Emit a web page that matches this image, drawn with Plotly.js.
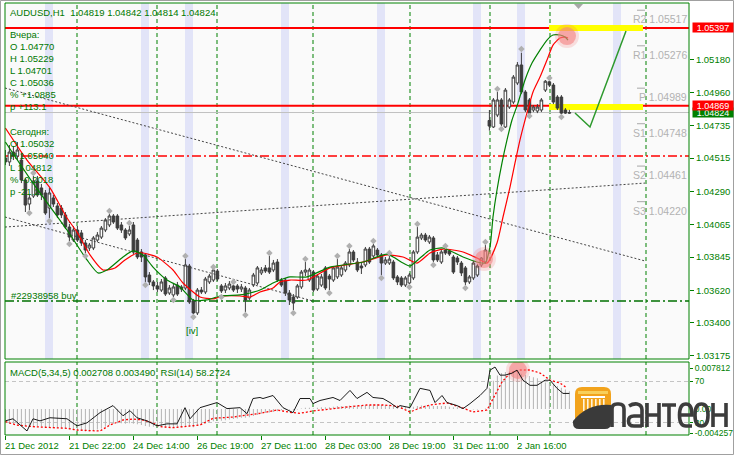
<!DOCTYPE html>
<html><head><meta charset="utf-8">
<script src="https://cdn.plot.ly/plotly-3.0.1.min.js"></script>
<style>html,body{margin:0;padding:0;background:#fff;} #chart{width:734px;height:455px;}</style>
</head><body><div id="chart"></div>
<script>
// ---------------- DATA ----------------
const symbolTitle = 'AUDUSD,H1  1.04819 1.04842 1.04814 1.04824';
const dateTickBars = [0,16,32,48,64,80,96,112,128];
const dateTickLabels = ['21 Dec 2012','21 Dec 22:00','24 Dec 14:00','26 Dec 19:00','27 Dec 11:00','28 Dec 03:00','28 Dec 19:00','31 Dec 11:00','2 Jan 16:00'];
const priceTicks = [1.05180,1.04960,1.04735,1.04515,1.04290,1.04065,1.03845,1.03620,1.03400,1.03175];

const barOpen = [1.04516,1.04489,1.04556,1.04529,1.04502,1.04367,1.04204,1.04258,1.04360,1.04313,
1.04279,1.04177,1.04245,1.04191,1.04177,1.04130,1.04048,1.03960,1.04028,1.04008,
1.03940,1.03906,1.03906,1.03960,1.03980,1.04028,1.04062,1.04123,1.04123,1.04062,
1.04028,1.04001,1.04062,1.03960,1.03879,1.03859,1.03723,1.03676,1.03649,1.03621,
1.03703,1.03601,1.03588,1.03655,1.03642,1.03635,1.03784,1.03547,1.03466,1.03621,
1.03608,1.03676,1.03689,1.03750,1.03649,1.03621,1.03635,1.03649,1.03649,1.03628,
1.03635,1.03567,1.03655,1.03669,1.03737,1.03771,1.03771,1.03757,1.03811,1.03689,
1.03689,1.03601,1.03574,1.03574,1.03642,1.03743,1.03689,1.03743,1.03628,1.03655,
1.03771,1.03716,1.03689,1.03710,1.03723,1.03757,1.03791,1.03879,1.03811,1.03784,
1.03791,1.03899,1.03852,1.03892,1.03859,1.03804,1.03804,1.03811,1.03710,1.03703,
1.03655,1.03669,1.03703,1.03879,1.03974,1.03994,1.03947,1.03974,1.03859,1.03811,
1.03892,1.03886,1.03845,1.03838,1.03804,1.03771,1.03676,1.03703,1.03723,1.03791,
1.03811,1.04770,1.04726,1.04807,1.04909,1.04726,1.04861,1.04895,1.05024,1.05146,
1.04963,1.04909,1.04841,1.04834,1.04841,1.04976,1.05032,1.05010,1.04929,1.04929,
1.04841,1.04819];
const barHigh = [1.04570,1.04604,1.04597,1.04624,1.04556,1.04380,1.04265,1.04394,1.04394,1.04340,
1.04299,1.04313,1.04265,1.04211,1.04197,1.04150,1.04069,1.04055,1.04055,1.04028,
1.03960,1.03940,1.03987,1.04014,1.04055,1.04109,1.04136,1.04136,1.04136,1.04082,
1.04041,1.04055,1.04082,1.03974,1.03899,1.03872,1.03743,1.03689,1.03676,1.03696,
1.03716,1.03655,1.03662,1.03676,1.03655,1.03831,1.03798,1.03561,1.03635,1.03642,
1.03710,1.03730,1.03764,1.03764,1.03662,1.03669,1.03682,1.03655,1.03662,1.03662,
1.03649,1.03635,1.03737,1.03784,1.03777,1.03791,1.03852,1.03825,1.03831,1.03703,
1.03703,1.03621,1.03594,1.03662,1.03757,1.03811,1.03771,1.03757,1.03730,1.03730,
1.03784,1.03730,1.03784,1.03831,1.03784,1.03818,1.03899,1.03892,1.03838,1.03811,
1.03913,1.03913,1.03933,1.03906,1.03872,1.03845,1.03852,1.03825,1.03723,1.03716,
1.03716,1.03737,1.03892,1.04048,1.04008,1.04008,1.03994,1.03987,1.03879,1.03892,
1.03899,1.03892,1.03859,1.03852,1.03818,1.03784,1.03723,1.03818,1.03798,1.03845,
1.03926,1.04841,1.04922,1.04963,1.04922,1.04990,1.04922,1.05078,1.05166,1.05229,
1.04976,1.04922,1.04875,1.04881,1.04922,1.05044,1.05040,1.05024,1.04942,1.04942,
1.04854,1.04842];
const barLow = [1.04468,1.04462,1.04502,1.04502,1.04346,1.04150,1.04163,1.04245,1.04252,1.04231,
1.04130,1.04109,1.04184,1.04109,1.04109,1.04035,1.03953,1.03947,1.03947,1.03920,
1.03872,1.03886,1.03892,1.03947,1.03967,1.04014,1.04048,1.04069,1.04028,1.04008,
1.03960,1.03987,1.03865,1.03831,1.03811,1.03676,1.03655,1.03621,1.03608,1.03608,
1.03581,1.03588,1.03574,1.03581,1.03608,1.03621,1.03527,1.03459,1.03452,1.03594,
1.03594,1.03662,1.03676,1.03682,1.03601,1.03601,1.03621,1.03608,1.03601,1.03608,
1.03473,1.03554,1.03642,1.03655,1.03723,1.03737,1.03730,1.03743,1.03676,1.03642,
1.03581,1.03520,1.03486,1.03561,1.03628,1.03716,1.03676,1.03608,1.03615,1.03642,
1.03621,1.03621,1.03676,1.03696,1.03710,1.03743,1.03777,1.03811,1.03743,1.03730,
1.03777,1.03798,1.03838,1.03845,1.03723,1.03791,1.03791,1.03689,1.03655,1.03642,
1.03642,1.03662,1.03689,1.03865,1.03960,1.03947,1.03933,1.03811,1.03811,1.03798,
1.03859,1.03852,1.03730,1.03791,1.03716,1.03655,1.03662,1.03689,1.03710,1.03777,
1.03798,1.04701,1.04719,1.04793,1.04732,1.04719,1.04848,1.04881,1.05010,1.04949,
1.04827,1.04820,1.04827,1.04820,1.04827,1.04963,1.04997,1.04881,1.04841,1.04812,
1.04814,1.04814];
const barClose = [1.04489,1.04556,1.04529,1.04570,1.04367,1.04197,1.04245,1.04360,1.04265,1.04265,
1.04143,1.04279,1.04204,1.04130,1.04130,1.04048,1.03980,1.04028,1.03960,1.03940,
1.03892,1.03926,1.03974,1.03994,1.04041,1.04096,1.04123,1.04082,1.04041,1.04028,
1.03974,1.04028,1.03879,1.03845,1.03845,1.03710,1.03676,1.03649,1.03628,1.03676,
1.03594,1.03635,1.03642,1.03594,1.03628,1.03791,1.03540,1.03466,1.03621,1.03608,
1.03696,1.03716,1.03757,1.03696,1.03615,1.03649,1.03662,1.03621,1.03628,1.03642,
1.03554,1.03621,1.03723,1.03771,1.03757,1.03750,1.03743,1.03804,1.03689,1.03655,
1.03601,1.03554,1.03533,1.03649,1.03743,1.03757,1.03757,1.03621,1.03716,1.03710,
1.03635,1.03696,1.03771,1.03777,1.03771,1.03804,1.03879,1.03825,1.03757,1.03771,
1.03899,1.03811,1.03920,1.03859,1.03804,1.03825,1.03831,1.03703,1.03676,1.03655,
1.03703,1.03723,1.03879,1.03980,1.03994,1.03960,1.03980,1.03825,1.03825,1.03879,
1.03872,1.03865,1.03743,1.03811,1.03737,1.03676,1.03710,1.03804,1.03784,1.03838,
1.03892,1.04732,1.04909,1.04909,1.04746,1.04976,1.04909,1.05064,1.05146,1.04963,
1.04841,1.04820,1.04861,1.04861,1.04909,1.05036,1.05010,1.04895,1.04854,1.04820,
1.04820,1.04824];

const fracUpBar = [7,26,31,45,52,57,66,75,83,86,92,96,103,110,120,123,129,136];
const fracUpPrice = [1.04414,1.04157,1.04075,1.03852,1.03777,1.03676,1.03872,1.03831,1.03852,1.03920,1.03953,1.03872,1.04069,1.03920,1.03947,1.04983,1.05254,1.05058];
const fracDnBar = [6,11,16,20,35,42,47,54,60,72,81,94,101,107,115,124,131,139];
const fracDnPrice = [1.04143,1.04089,1.03933,1.03852,1.03655,1.03554,1.03439,1.03574,1.03452,1.03466,1.03601,1.03703,1.03642,1.03791,1.03635,1.04712,1.04800,1.04793];

const fastMaX = [0,6.9,15.4,20.4,23.15,25.4,29.4,31.9,34.4,36.9,40.4,43.65,46.9,50.4,53.65,58.65,61.15,63.65,66.9,68.65,71.15,75.4,81.15,89.4,95.4,99.4,101.15,103.65,106.15,109.4,114.4,117.9,119.9,121.15,121.9,122.9,124.15,125.4,126.65,128.15,129.9,131.65,133.65,135.4,136.9,138.65,139.9,140.65];
const fastMaV = [1.04624,1.04346,1.04028,1.03825,1.03737,1.03757,1.03845,1.03886,1.03859,1.03777,1.03689,1.03642,1.03554,1.03554,1.03581,1.03588,1.03601,1.03621,1.03669,1.03689,1.03710,1.03710,1.03777,1.03811,1.03865,1.03804,1.03784,1.03838,1.03892,1.03906,1.03845,1.03811,1.03804,1.03913,1.04116,1.04299,1.04482,1.04638,1.04773,1.04888,1.05044,1.05159,1.05247,1.05315,1.05349,1.05349,1.05335,1.05315];
const slowMaX = [0,5.4,11.15,15.4,17.9,21.15,24.4,27.4,29.9,32.9,34.4,37.9,41.9,44.4,48.65,51.9,54.4,58.65,61.15,63.65,66.9,68.65,71.15,75.4,81.15,89.4,95.4,99.4,102.9,106.15,109.4,114.4,117.9,120.4,122.9,124.4,126.15,127.4,128.65,130.4,131.9,133.65,135.4,136.9,138.65,139.9,140.65];
const slowMaV = [1.04719,1.04502,1.04313,1.04109,1.04014,1.03859,1.03757,1.03771,1.03825,1.03872,1.03872,1.03845,1.03757,1.03669,1.03574,1.03561,1.03581,1.03581,1.03574,1.03608,1.03635,1.03676,1.03689,1.03689,1.03771,1.03811,1.03859,1.03845,1.03804,1.03872,1.03899,1.03879,1.03838,1.03804,1.03940,1.04116,1.04319,1.04482,1.04638,1.04821,1.04963,1.05064,1.05180,1.05281,1.05329,1.05335,1.05329];

const crossBars = [119.65,140.4];
const crossPrices = [1.03831,1.05342];

const resistanceLevel = 1.05397, supportLevel = 1.04869, bidLevel = 1.04824;
const redDashLevel = 1.04529, buyOrderLevel = 1.03547;
const zoneBars = [135.9,159.4];
const zoneTop = [1.05377,1.05417];
const zoneBottom = [1.04841,1.04882];

const trendA = {x:[-0.1,159.9], y:[1.04990,1.03818]};
const trendB = {x:[-0.1,159.9], y:[1.04048,1.04346]};
const trendC = {x:[-0.1,76.9],  y:[1.04116,1.03547]};
const forecastX = [142.4,146.15,155.15];
const forecastY = [1.04821,1.04726,1.05376];

const pivotNames = ['R2','R1','P','S1','S2','S3'];
const pivotLevels = [1.05517,1.05276,1.04989,1.04748,1.04461,1.04220];

const sessionLineBars = [17.9,37.9,52.9,76.9,101.15,121.15,136.15,160.15];
const bandStartBars = [10,34,45,69,93,117,128,152];

const yesterdayLines = ['Вчера:','O 1.04770','H 1.05229','L 1.04701','C 1.05036','% +1.0885','p +113.1'];
const todayLines = ['Сегодня:','O 1.05032','H 1.05040','L 1.04812','% -0.2018','p -21.2'];
const orderLabel = '#22938958 buy';
const waveLabel = '[iv]';
const indicatorLabel = 'MACD(5,34,5) 0.002708 0.003490  RSI(14) 58.2724';

const macdHist = [-0.0024,-0.0025,-0.0024,-0.0026,-0.0027,-0.0029,-0.0030,-0.0029,-0.0029,-0.0030,-0.0031,-0.0031,-0.0031,-0.0032,-0.0032,-0.0033,-0.0035,-0.0036,
-0.0037,-0.0037,-0.0038,-0.0038,-0.0037,-0.0035,-0.0033,-0.0030,-0.0027,
-0.0025,-0.0024,-0.0024,-0.0025,-0.0024,-0.0025,-0.0026,-0.0027,-0.0029,-0.0030,-0.0030,-0.0030,-0.0031,
-0.0032,-0.0032,-0.0032,-0.0032,-0.0031,-0.0029,-0.0030,-0.0031,-0.0029,-0.0027,-0.0025,-0.0023,-0.0021,-0.0020,
-0.0020,-0.0019,-0.0018,-0.0017,-0.0016,-0.0015,-0.0015,-0.0014,-0.0012,-0.0010,-0.0008,-0.0007,-0.0006,
-0.0005,-0.0004,-0.0002,-0.0001,-0.0001,-0.0002,-0.0001,0.0001,0.0002,0.0002,0.0001,0.0002,
0.0003,0.0003,0.0003,0.0004,0.0005,0.0005,0.0005,0.0006,0.0006,0.0006,0.0006,0.0007,0.0007,0.0008,0.0008,0.0007,0.0007,0.0007,0.0006,0.0005,0.0005,0.0004,
0.0004,0.0004,0.0005,0.0006,0.0006,0.0006,0.0005,0.0005,0.0005,0.0005,0.0004,0.0003,0.0003,0.0002,0.0001,0.0000,-0.0001,-0.0001,0.0000,0.0001,
0.0036,0.0048,0.0057,0.0061,0.0063,0.0064,0.0064,0.0063,0.0060,0.0058,0.0056,0.0054,0.0052,0.0047,0.0045,0.0043,0.0041,0.0039,0.0036,0.0033,0.0030];
const signalX = [0,2.8,6.9,15.4,17.9,23.65,26.15,29.4,31.9,34.4,36.9,38.65,41.9,45.4,48.65,51.9,56.9,63.65,67.9,71.15,73.65,76.9,81.9,86.15,90.4,94.4,97.9,101.15,103.65,106.15,110.4,113.65,116.9,120.4,122.4,124.15,126.15,128.65,131.15,133.65,136.15,138.65,140.4];
const signalV = [-0.00215,-0.00272,-0.00300,-0.00328,-0.00357,-0.00374,-0.00272,-0.00187,-0.00170,-0.00187,-0.00238,-0.00300,-0.00317,-0.00300,-0.00272,-0.00158,-0.00136,-0.00073,-0.00017,-0.00056,-0.00073,-0.00034,0.00012,0.00039,0.00068,0.00068,0.00050,-0.00051,0.00017,0.00068,0.00102,0.00034,-0.00051,-0.00017,0.00238,0.00458,0.00611,0.00662,0.00662,0.00611,0.00492,0.00441,0.00357];
const rsiX = [0,1.9,5.4,6.9,8.65,11.15,15.4,17.9,20.4,23.65,26.9,29.4,31.15,32.9,35.4,37.9,40.4,42.9,44.9,46.15,48.65,50.4,52.9,55.4,58.65,60.4,61.9,63.65,64.4,66.9,69.4,71.9,73.65,76.15,76.9,78.65,81.9,83.65,86.15,87.9,90.4,91.9,94.4,96.15,97.9,98.65,101.15,103.65,106.15,107.4,109.15,110.4,112.9,114.4,116.15,118.65,120.4,121.15,122.4,123.65,124.9,126.65,127.9,129.4,131.15,132.9,134.9,136.15,137.9,139.4,141];
const rsiV = [31.9,33.9,22.2,33.9,31.9,34.9,33.9,27.1,30.0,39.8,46.6,36.8,41.7,34.9,31.9,27.1,29.0,29.0,44.6,33.9,44.6,46.6,49.5,43.7,44.6,38.8,53.4,54.4,53.4,56.3,44.6,39.8,53.4,53.4,48.5,51.5,54.4,51.5,61.2,53.4,59.3,54.4,53.4,49.5,44.6,46.6,44.6,63.2,61.2,49.5,56.3,49.5,46.6,43.7,48.5,56.3,63.2,80.7,83.7,75.9,75.9,77.8,80.7,71.0,66.1,66.1,71.0,71.0,63.2,58.3,58.27];
const macdCrossX = [128.15], macdCrossY = [0.00662];
const macdScaleLabels = ['0.007812','0.00','-0.004257'];
const rsiLevels = [70,30];

// ---------------- LAYOUT HELPERS ----------------
const W = 734, H = 455, ML = 5, MR = 45, MT = 3, MB = 20;
const PW = W - ML - MR, PH = H - MT - MB;
const PX = x => (x - ML) / PW;
const PY = y => (H - MB - y) / PH;
const MAIN_BOTTOM = PY(359), SUB_TOP = PY(362);
const GREEN = '#008000', TXT = '#007800';
const FONT = 'Liberation Sans, Arial, sans-serif';
const pathPx = s => s.replace(/(-?[\d.]+),(-?[\d.]+)/g, (m, a, b) => PX(+a).toFixed(5) + ',' + PY(+b).toFixed(5));

const barIdx = barOpen.map((_, i) => i);

const traces = [];
[trendA, trendB, trendC].forEach(t => traces.push({type:'scatter', mode:'lines', x:t.x, y:t.y, xaxis:'x', yaxis:'y',
  line:{color:'#454545', width:1, dash:'2px,2px'}, hoverinfo:'skip'}));
traces.push({type:'candlestick', x:barIdx, open:barOpen, high:barHigh, low:barLow, close:barClose, xaxis:'x', yaxis:'y',
  increasing:{line:{color:'#3c3c3c', width:1}, fillcolor:'#ffffff'},
  decreasing:{line:{color:'#3c3c3c', width:1}, fillcolor:'#3c3c3c'},
  whiskerwidth:0, hoverinfo:'skip'});
traces.push({type:'scatter', mode:'lines', x:slowMaX, y:slowMaV, line:{color:'#ff0000', width:1.2, shape:'spline', smoothing:0.6}, hoverinfo:'skip'});
traces.push({type:'scatter', mode:'lines', x:fastMaX, y:fastMaV, line:{color:'#008000', width:1.2, shape:'spline', smoothing:0.6}, hoverinfo:'skip'});
traces.push({type:'scatter', mode:'lines', x:forecastX, y:forecastY, line:{color:'#2e9a2e', width:1.5}, hoverinfo:'skip'});
traces.push({type:'scatter', mode:'markers', x:fracUpBar, y:fracUpPrice, marker:{symbol:'diamond', size:5, color:'#b0b0b0'}, hoverinfo:'skip'});
traces.push({type:'scatter', mode:'markers', x:fracDnBar, y:fracDnPrice, marker:{symbol:'diamond', size:5, color:'#b0b0b0'}, hoverinfo:'skip'});
traces.push({type:'scatter', mode:'markers', x:crossBars, y:crossPrices, marker:{size:24, color:'rgba(240,90,90,0.18)'}, hoverinfo:'skip'});
traces.push({type:'scatter', mode:'markers', x:crossBars, y:crossPrices, marker:{size:18, color:'rgba(245,130,130,0.6)'}, hoverinfo:'skip'});
// indicator pane
traces.push({type:'bar', x:barIdx, y:macdHist, xaxis:'x', yaxis:'y2', width:0.25, marker:{color:'#b4b4b4', line:{width:0}}, hoverinfo:'skip'});
traces.push({type:'scatter', mode:'lines', x:signalX, y:signalV, xaxis:'x', yaxis:'y2', line:{color:'#ff0000', width:1.3, dash:'2px,2px'}, hoverinfo:'skip'});
traces.push({type:'scatter', mode:'lines', x:rsiX, y:rsiV, xaxis:'x', yaxis:'y3', line:{color:'#1a1a1a', width:1}, hoverinfo:'skip'});
traces.push({type:'scatter', mode:'markers', x:macdCrossX, y:macdCrossY, xaxis:'x', yaxis:'y2', marker:{size:24, color:'rgba(240,90,90,0.18)'}, hoverinfo:'skip'});
traces.push({type:'scatter', mode:'markers', x:macdCrossX, y:macdCrossY, xaxis:'x', yaxis:'y2', marker:{size:18, color:'rgba(245,130,130,0.6)'}, hoverinfo:'skip'});

const shapes = [];
bandStartBars.forEach(b => shapes.push({type:'rect', layer:'below', xref:'x', yref:'paper', x0:b-0.1, x1:b+1.9, y0:MAIN_BOTTOM, y1:1, line:{width:0}, fillcolor:'#e2e4f8'}));
sessionLineBars.forEach(b => {
  shapes.push({type:'line', layer:'below', xref:'x', yref:'paper', x0:b, x1:b, y0:MAIN_BOTTOM, y1:1, line:{color:GREEN, width:1, dash:'4px,3px'}});
  shapes.push({type:'line', layer:'below', xref:'x', yref:'paper', x0:b, x1:b, y0:0, y1:SUB_TOP, line:{color:GREEN, width:1, dash:'4px,3px'}});
});
shapes.push({type:'rect', layer:'below', xref:'x', yref:'y', x0:zoneBars[0], x1:zoneBars[1], y0:zoneTop[0], y1:zoneTop[1], line:{width:0}, fillcolor:'#ffff00'});
shapes.push({type:'rect', layer:'below', xref:'x', yref:'y', x0:zoneBars[0], x1:zoneBars[1], y0:zoneBottom[0], y1:zoneBottom[1], line:{width:0}, fillcolor:'#ffff00'});
shapes.push({type:'line', layer:'below', xref:'paper', yref:'y', x0:0, x1:1, y0:bidLevel, y1:bidLevel, line:{color:'#c0c0c0', width:1}});
shapes.push({type:'line', layer:'below', xref:'paper', yref:'y', x0:0, x1:1, y0:resistanceLevel, y1:resistanceLevel, line:{color:'#ff0000', width:2}});
shapes.push({type:'line', layer:'below', xref:'paper', yref:'y', x0:0, x1:1, y0:supportLevel, y1:supportLevel, line:{color:'#ff0000', width:2}});
shapes.push({type:'line', layer:'below', xref:'paper', yref:'y', x0:0, x1:1, y0:redDashLevel, y1:redDashLevel, line:{color:'#ff0000', width:1.5, dash:'9px,3px,2px,3px'}});
shapes.push({type:'line', layer:'below', xref:'paper', yref:'y', x0:0, x1:1, y0:buyOrderLevel, y1:buyOrderLevel, line:{color:'#007000', width:1.5, dash:'9px,3px,2px,3px'}});
pivotLevels.forEach(v => shapes.push({type:'line', xref:'x', yref:'y', x0:157.9, x1:159.9, y0:v, y1:v, line:{color:'#a8a8a8', width:1}}));
// frames
shapes.push({type:'rect', xref:'paper', yref:'paper', x0:0, x1:1, y0:MAIN_BOTTOM, y1:1, line:{color:GREEN, width:1}, fillcolor:'rgba(0,0,0,0)'});
shapes.push({type:'rect', xref:'paper', yref:'paper', x0:0, x1:1, y0:0, y1:SUB_TOP, line:{color:GREEN, width:1}, fillcolor:'rgba(0,0,0,0)'});
shapes.push({type:'rect', xref:'paper', yref:'paper', x0:PX(0.5), x1:PX(733.5), y0:PY(0.5), y1:PY(454.5), line:{color:'#a0a0a0', width:1}, fillcolor:'rgba(0,0,0,0)'});
// shift marker
shapes.push({type:'path', xref:'paper', yref:'paper', path:pathPx('M574,4 L583,4 L578.5,9 Z'), fillcolor:'#a8a8a8', line:{width:0}});
// logo icon
shapes.push({type:'path', xref:'paper', yref:'paper', path:pathPx('M575,394 Q575,387 582,387 L604,387 Q611,387 611,394 L611,416 L575,420 Z'), fillcolor:'#f2a31c', line:{width:0}});
shapes.push({type:'path', xref:'paper', yref:'paper', path:pathPx('M578,391 L608,391 L608,394 L578,394 Z'), fillcolor:'#f8cf5a', line:{width:0}});
shapes.push({type:'path', xref:'paper', yref:'paper', path:pathPx('M581,396 L605,396 L605,398 L581,398 Z'), fillcolor:'#ffffff', line:{width:0}});
[583,587,591,595,599,603].forEach(c => shapes.push({type:'path', xref:'paper', yref:'paper', path:pathPx(`M${c},399 L${c+1.6},399 L${c+1.6},411 L${c},411 Z`), fillcolor:'#fff4dc', line:{width:0}}));
shapes.push({type:'path', xref:'paper', yref:'paper', path:pathPx('M573,421 Q588,403 611,405 L611,423 Q611,429 605,429 L579,429 Q573,429 573,423 Z'), fillcolor:'#3a3a3a', line:{width:0}});
// logo letters
const LOGO = '#3c3c3c';
['M612,427 L612,409 Q612,404 617,404 L619,404 Q624,404 624,409 L624,427',
 'M629,406 Q633,403.5 637,404 Q642,405 642,410 L642,427 M642,416 L634,416 Q628.5,416 628.5,421 Q628.5,426 634,426 L642,426',
 'M647,403 L647,427 M647,415 L659,415 M659,403 L659,427',
 'M662,405 L676,405 M669,405 L669,427',
 'M679.5,415 L692,415 Q692,404 686,404 Q679.5,404 679.5,415 Q679.5,426 686,426 L692,426',
 'M701.5,404 Q708,404 708,415 Q708,426 701.5,426 Q695,426 695,415 Q695,404 701.5,404 Z',
 'M713,403 L713,427 M713,415 L726,415 M726,403 L726,427'
].forEach(p => shapes.push({type:'path', xref:'paper', yref:'paper', path:pathPx(p), line:{color:LOGO, width:3.6}, fillcolor:'rgba(0,0,0,0)'}));

const ann = [];
const txt = (text, x, y, opts={}) => ann.push(Object.assign({text, xref:'paper', yref:'paper', x:PX(x), y:PY(y), xanchor:'left', yanchor:'middle', showarrow:false,
  font:{family:FONT, size:9.5, color:TXT}}, opts));
txt(symbolTitle, 8, 12.7);
yesterdayLines.forEach((t, i) => txt(t, 8, 34.7 + 12 * i));
todayLines.forEach((t, i) => txt(t, 8, 131.5 + 12 * i));
txt(orderLabel, 9, 295.5);
txt(waveLabel, 184, 330.5);
txt(indicatorLabel, 8, 372);
dateTickBars.forEach((b, i) => ann.push({text:dateTickLabels[i], xref:'x', yref:'paper', x:b, y:PY(445), xanchor:'left', xshift:-2, yanchor:'middle', showarrow:false,
  font:{family:FONT, size:9.5, color:GREEN}}));
pivotNames.forEach((n, i) => ann.push({text:n + ' ' + pivotLevels[i].toFixed(5), xref:'paper', yref:'y', x:PX(689), y:pivotLevels[i], xanchor:'right', yanchor:'top', yshift:-1, showarrow:false,
  font:{family:FONT, size:10.5, color:'#b2b2b2'}}));
const priceBox = (v, bg) => ann.push({text:v.toFixed(5), xref:'paper', yref:'y', x:1, y:v, xanchor:'left', xshift:3, yanchor:'middle', showarrow:false,
  bgcolor:bg, width:40, height:9, borderpad:0, font:{family:FONT, size:9, color:'#ffffff'}});
priceBox(bidLevel, '#008000');
priceBox(supportLevel, '#ff0000');
priceBox(resistanceLevel, '#ff0000');

const layout = {
  width:W, height:H, margin:{l:ML, r:MR, t:MT, b:MB, pad:0},
  paper_bgcolor:'#ffffff', plot_bgcolor:'#fafafa', showlegend:false, hovermode:false,
  boxgap:0.35, boxgroupgap:0, barmode:'overlay',
  font:{family:FONT, size:9.5, color:GREEN},
  xaxis:{domain:[0,1], anchor:'y2', range:[-0.1,170.9], rangeslider:{visible:false}, showgrid:false, zeroline:false,
    tickmode:'array', tickvals:dateTickBars, ticktext:dateTickBars.map(() => ''), ticks:'outside', ticklen:4, tickcolor:GREEN, showline:false},
  yaxis:{domain:[MAIN_BOTTOM,1], anchor:'x', side:'right', range:[1.03154,1.05566], showgrid:false, zeroline:false,
    tickmode:'array', tickvals:priceTicks, ticktext:priceTicks.map(v => v.toFixed(5)), ticks:'outside', ticklen:4, tickcolor:GREEN,
    tickfont:{family:FONT, size:9.5, color:GREEN}},
  yaxis2:{domain:[0,SUB_TOP], anchor:'x', side:'right', range:[-0.004415,0.00798], showgrid:false, zeroline:false,
    tickmode:'array', tickvals:[0.00696,0,-0.00408], ticktext:macdScaleLabels, ticks:'outside', ticklen:3, tickcolor:GREEN,
    tickfont:{family:FONT, size:8.5, color:GREEN}},
  yaxis3:{overlaying:'y2', anchor:'x', side:'right', range:[18.29,88.54], showgrid:true, gridcolor:'#c4c4c4', griddash:'4px,3px', zeroline:false,
    tickmode:'array', tickvals:rsiLevels, ticktext:rsiLevels.map(String), ticks:'outside', ticklen:3, tickcolor:GREEN,
    tickfont:{family:FONT, size:8.5, color:GREEN}},
  shapes, annotations:ann
};
Plotly.newPlot('chart', traces, layout, {staticPlot:true, displayModeBar:false});
</script></body></html>
